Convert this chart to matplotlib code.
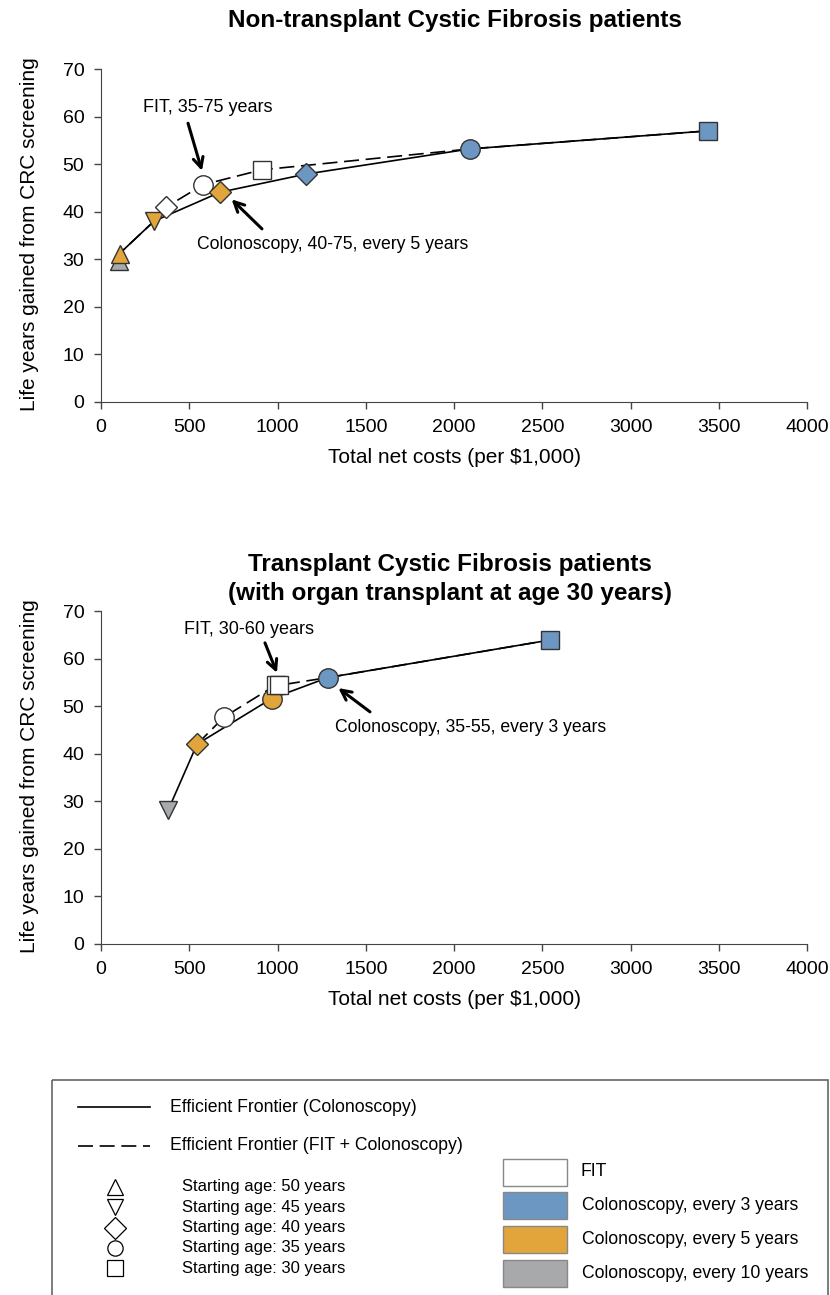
import matplotlib
matplotlib.use("Agg")
import matplotlib.pyplot as plt
from matplotlib.lines import Line2D
from matplotlib.patches import Rectangle

plt.rcParams['font.family'] = ['Liberation Sans', 'DejaVu Sans']

# strategy codes: FIT, C3 / C5 / C10 = colonoscopy every 3 / 5 / 10 years
# non-transplant CF patients
nt_strategy = ['C10', 'C5', 'C5', 'FIT', 'FIT', 'C5', 'FIT', 'C3', 'C3', 'C3']
nt_start_age = [50, 50, 45, 40, 35, 40, 30, 40, 35, 30]
nt_cost = [100, 105, 300, 370, 580, 675, 910, 1160, 2090, 3440]
nt_ly = [29.6, 31.2, 38.0, 41.0, 45.7, 44.1, 48.8, 47.9, 53.2, 57.0]
nt_frontier_col = [0, 1, 2, 5, 7, 8, 9]
nt_frontier_fit = [0, 1, 2, 3, 4, 6, 8, 9]

# transplant CF patients (organ transplant at age 30)
tx_strategy = ['C10', 'C5', 'FIT', 'C5', 'FIT', 'FIT', 'C3', 'C3']
tx_start_age = [45, 40, 35, 35, 30, 30, 35, 30]
tx_cost = [380, 544, 697, 967, 989, 1010, 1285, 2544]
tx_ly = [28.1, 42.0, 47.7, 51.6, 54.4, 54.4, 56.0, 63.9]
tx_frontier_col = [0, 1, 3, 6, 7]
tx_frontier_fit = [1, 2, 4, 5, 6, 7]

x_ticks = [0, 500, 1000, 1500, 2000, 2500, 3000, 3500, 4000]
y_ticks = [0, 10, 20, 30, 40, 50, 60, 70]

fill = {'FIT': 'white', 'C3': '#6D97C3', 'C5': '#E1A53B', 'C10': '#A7A9AB'}
marker = {50: '^', 45: 'v', 40: 'D', 35: 'o', 30: 's'}
msize = {'^': 13, 'v': 13, 'D': 11.5, 'o': 14, 's': 12.5}
edge = '#333333'

age_labels = ['Starting age: 50 years', 'Starting age: 45 years',
              'Starting age: 40 years', 'Starting age: 35 years',
              'Starting age: 30 years']
legend_ages = [50, 45, 40, 35, 30]
patch_labels = ['FIT', 'Colonoscopy, every 3 years',
                'Colonoscopy, every 5 years', 'Colonoscopy, every 10 years']
patch_keys = ['FIT', 'C3', 'C5', 'C10']

W, H = 830, 1295
fig = plt.figure(figsize=(W / 100, H / 100), dpi=100)


def px_axes(left, top, right, bottom):
    return fig.add_axes([left / W, 1 - bottom / H, (right - left) / W, (bottom - top) / H])


def draw_panel(ax, strategy, ages, cost, ly, front_col, front_fit):
    ax.plot([cost[i] for i in front_col], [ly[i] for i in front_col],
            color='black', lw=1.2, zorder=2)
    ax.plot([cost[i] for i in front_fit], [ly[i] for i in front_fit],
            color='black', lw=1.2, dashes=(9, 4), zorder=2)
    for s, a, c, v in zip(strategy, ages, cost, ly):
        m = marker[a]
        ax.plot(c, v, marker=m, ms=msize[m], mfc=fill[s], mec=edge, mew=1.0,
                ls='none', zorder=3)
    ax.set_xlim(0, 4000)
    ax.set_ylim(0, 70)
    ax.set_xticks(x_ticks)
    ax.set_yticks(y_ticks)
    ax.tick_params(labelsize=14, length=5, width=1, color='#444444', pad=7)
    for sp in ['top', 'right']:
        ax.spines[sp].set_visible(False)
    for sp in ['left', 'bottom']:
        ax.spines[sp].set_color('#444444')
    ax.set_xlabel('Total net costs (per $1,000)', fontsize=15, labelpad=9)
    ax.set_ylabel('Life years gained from CRC screening', fontsize=15)
    ax.yaxis.set_label_coords(-0.088, 0.505)
    for ln in ax.lines:
        ln.set_clip_on(False)


arrow = dict(arrowstyle='->', color='black', lw=2.2, mutation_scale=18,
             shrinkA=0, shrinkB=0)

ax1 = px_axes(101, 69, 807, 402)
draw_panel(ax1, nt_strategy, nt_start_age, nt_cost, nt_ly, nt_frontier_col, nt_frontier_fit)
ax1.text(606, 62.0, 'FIT, 35-75 years', ha='center', va='center', fontsize=13)
ax1.annotate('', xy=(572, 48.6), xytext=(493, 58.6), arrowprops=arrow)
ax1.text(544, 33.2, 'Colonoscopy, 40-75, every 5 years', ha='left', va='center', fontsize=12.7)
ax1.annotate('', xy=(740, 42.6), xytext=(912, 36.4), arrowprops=arrow)

ax2 = px_axes(101, 611, 807, 944)
draw_panel(ax2, tx_strategy, tx_start_age, tx_cost, tx_ly, tx_frontier_col, tx_frontier_fit)
ax2.text(838, 66.2, 'FIT, 30-60 years', ha='center', va='center', fontsize=13)
ax2.annotate('', xy=(997, 57.0), xytext=(929, 63.3), arrowprops=arrow)
ax2.text(1326, 45.6, 'Colonoscopy, 35-55, every 3 years', ha='left', va='center', fontsize=12.7)
ax2.annotate('', xy=(1345, 53.8), xytext=(1524, 48.8), arrowprops=arrow)

fig.text(455 / W, 1 - 20 / H, 'Non-transplant Cystic Fibrosis patients',
         ha='center', va='center', fontsize=17.5, fontweight='bold')
fig.text(450 / W, 1 - 579 / H,
         'Transplant Cystic Fibrosis patients\n(with organ transplant at age 30 years)',
         ha='center', va='center', fontsize=17.5, fontweight='bold', linespacing=1.3)

# shared legend panel, laid out in pixel units
lax = px_axes(0, 0, W, H)
lax.set_xlim(0, W)
lax.set_ylim(H, 0)
lax.axis('off')
lax.add_patch(Rectangle((52, 1080), 776, 230, fill=False, ec='#666666', lw=1.2))

lax.add_line(Line2D([78, 150], [1107, 1107], color='black', lw=1.2))
lax.text(170, 1107, 'Efficient Frontier (Colonoscopy)', va='center', fontsize=12.7)
lax.add_line(Line2D([78, 150], [1146, 1146], color='black', lw=1.2, dashes=(9, 4)))
lax.text(170, 1146, 'Efficient Frontier (FIT + Colonoscopy)', va='center', fontsize=12.7)

for k, (age, lab) in enumerate(zip(legend_ages, age_labels)):
    yy = 1187 + 20.3 * k
    lax.plot(115, yy, marker=marker[age], ms=11, mfc='white', mec='black', mew=0.9)
    lax.text(182, yy, lab, va='center', fontsize=12)

for k, (key, lab) in enumerate(zip(patch_keys, patch_labels)):
    yc = 1172 + 33.7 * k
    lax.add_patch(Rectangle((503, yc - 13.5), 64, 27, fc=fill[key], ec='#888888', lw=1.0))
    lax.text(582 if k else 580, yc, lab, va='center', fontsize=12.7)

fig.savefig('out.png', dpi=100)
